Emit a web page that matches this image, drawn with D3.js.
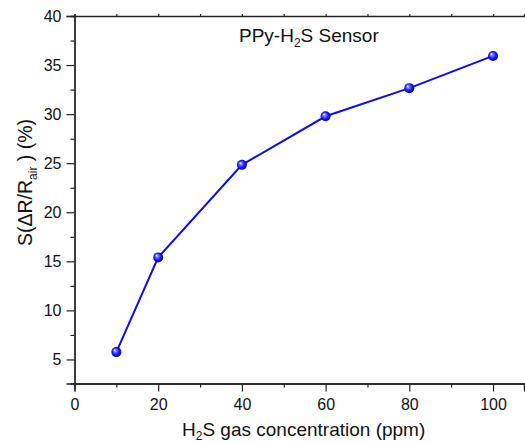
<!DOCTYPE html>
<html><head><meta charset="utf-8">
<script src="https://cdn.jsdelivr.net/npm/d3@7"></script>
<style>body{margin:0;background:#fff}svg{display:block;font-family:Arial,"Liberation Sans",sans-serif}</style>
</head><body><svg id="c" width="525" height="443"></svg>
<script>
const concentrations = [10, 20, 40, 60, 80, 100];
const response = [5.75, 15.4, 24.83, 29.78, 32.65, 35.93];
const xTicks = [0, 20, 40, 60, 80, 100];
const xMinor = [10, 30, 50, 70, 90];
const yTicks = [5, 10, 15, 20, 25, 30, 35, 40];
const yMinor = [7.5, 12.5, 17.5, 22.5, 27.5, 32.5, 37.5];

const svg = d3.select("#c");
const L = 74.5, R = 524, T = 16, B = 383.5;
const x = d3.scaleLinear().domain([0, 107.4]).range([L, R]);
const y = d3.scaleLinear().domain([2.55, 40]).range([B, T]);

const defs = svg.append("defs");
const g = defs.append("radialGradient").attr("id","ball").attr("cx","50%").attr("cy","50%").attr("r","55%").attr("fx","32%").attr("fy","30%");
g.append("stop").attr("offset","0%").attr("stop-color","#ffffff");
g.append("stop").attr("offset","25%").attr("stop-color","#7a7aff");
g.append("stop").attr("offset","65%").attr("stop-color","#1414f4");
g.append("stop").attr("offset","100%").attr("stop-color","#00008a");

const axCol = "#222";
svg.append("g").attr("transform",`translate(0,${B})`)
  .call(d3.axisBottom(x).tickValues(xTicks).tickSize(8).tickPadding(7).tickFormat(d3.format("d")));
svg.append("g").attr("transform",`translate(0,${B})`)
  .call(d3.axisBottom(x).tickValues(xMinor).tickSize(4).tickFormat(""));
svg.append("g").attr("transform",`translate(0,${T})`)
  .call(d3.axisTop(x).tickValues(xTicks.concat(xMinor)).tickSize(2).tickFormat(""));
svg.append("g").attr("transform",`translate(${L},0)`)
  .call(d3.axisLeft(y).tickValues(yTicks).tickSize(8).tickPadding(5).tickFormat(d3.format("d")));
svg.append("g").attr("transform",`translate(${L},0)`)
  .call(d3.axisLeft(y).tickValues(yMinor).tickSize(4).tickFormat(""));

svg.selectAll(".domain").attr("stroke",axCol).attr("stroke-width",1.3);
svg.selectAll(".tick line").attr("stroke",axCol).attr("stroke-width",1.2);
svg.selectAll(".tick text").attr("font-size",16).attr("fill","#111").attr("font-family","Arial,'Liberation Sans',sans-serif");

svg.append("path").datum(concentrations.map((c,i)=>[c,response[i]]))
  .attr("fill","none").attr("stroke","#0a0aff").attr("stroke-width",2)
  .attr("d", d3.line().x(d=>x(d[0])).y(d=>y(d[1])));
svg.selectAll("circle.pt").data(concentrations).enter().append("circle")
  .attr("class","pt").attr("cx",d=>x(d)).attr("cy",(d,i)=>y(response[i])).attr("r",5)
  .attr("fill","url(#ball)");

const t = svg.append("text").attr("x",239).attr("y",42).attr("font-size",19).attr("fill","#111");
t.append("tspan").text("PPy-H");
t.append("tspan").text("2").attr("font-size",12).attr("dy",5);
t.append("tspan").text("S Sensor").attr("dy",-5);

const xl = svg.append("text").attr("x",182).attr("y",436).attr("font-size",19).attr("fill","#111");
xl.append("tspan").text("H");
xl.append("tspan").text("2").attr("font-size",12).attr("dy",4);
xl.append("tspan").text("S gas concentration (ppm)").attr("dy",-4);

const yl = svg.append("text").attr("transform","translate(32,246) rotate(-90)").attr("font-size",19.5).attr("fill","#111");
yl.append("tspan").text("S(ΔR/R");
yl.append("tspan").text("air").attr("font-size",12).attr("dy",5);
yl.append("tspan").text("\u00a0) (%)").attr("dy",-5);
</script></body></html>
